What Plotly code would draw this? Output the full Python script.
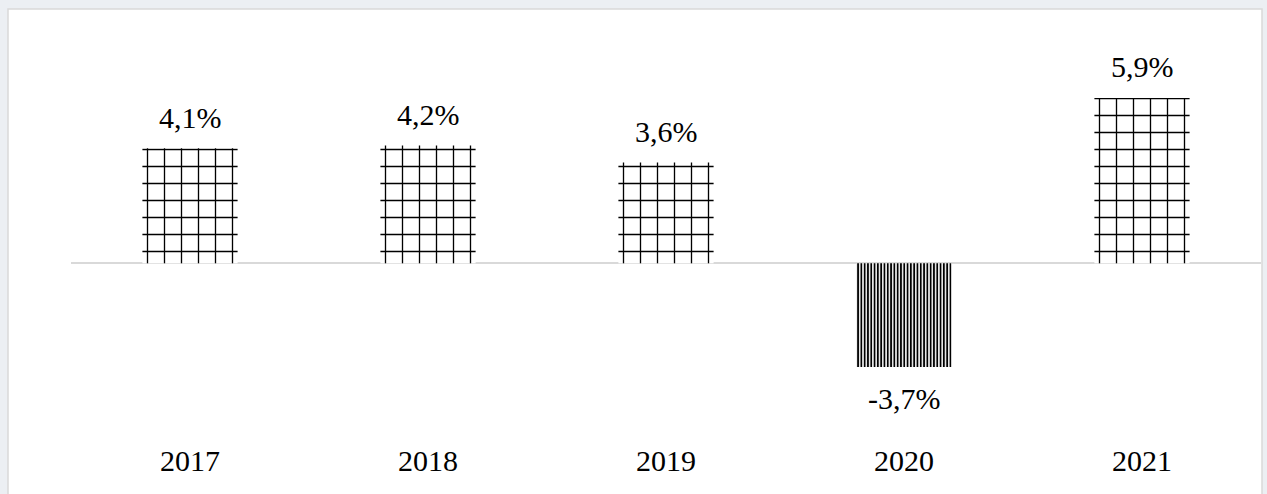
import plotly.graph_objects as go

years = ["2017", "2018", "2019", "2020", "2021"]
growth = [4.1, 4.2, 3.6, -3.7, 5.9]
labels = ["4,1%", "4,2%", "3,6%", "-3,7%", "5,9%"]

W, H = 1267, 494
FONT = "Liberation Serif, Times New Roman, serif"
OUTER = "#eceff3"

pos_idx = [i for i, v in enumerate(growth) if v >= 0]
neg_idx = [i for i, v in enumerate(growth) if v < 0]

fig = go.Figure()
fig.add_trace(go.Bar(
    x=[years[i] for i in pos_idx], y=[growth[i] for i in pos_idx],
    width=0.4,
    marker=dict(
        color="black",
        line=dict(width=0),
        pattern=dict(shape="+", fgcolor="black", fgopacity=1, bgcolor="white",
                     size=17, solidity=0.15, fillmode="replace"),
    ),
    hoverinfo="skip",
))
fig.add_trace(go.Bar(
    x=[years[i] for i in neg_idx], y=[growth[i] for i in neg_idx],
    width=0.4,
    marker=dict(
        color="black",
        line=dict(width=0),
        pattern=dict(shape="|", fgcolor="black", fgopacity=1, bgcolor="white",
                     size=3.3, solidity=0.55, fillmode="replace"),
    ),
    hoverinfo="skip",
))

# value labels (x given as category index on the category axis)
for i, (v, t) in enumerate(zip(growth, labels)):
    fig.add_annotation(
        x=i, y=v, xref="x", yref="y", text=t, showarrow=False,
        yshift=31 if v >= 0 else -31, yanchor="middle",
        font=dict(family=FONT, size=30, color="black"),
    )

# white chart area with light border
fig.add_shape(type="rect", xref="paper", yref="paper",
              x0=8 / W, x1=1262 / W, y0=-0.2, y1=1 - 9 / H,
              fillcolor="white", line=dict(color="#d9d9d9", width=1.5),
              layer="below")

fig.update_layout(
    width=W, height=H,
    margin=dict(l=0, r=0, t=0, b=0, pad=0, autoexpand=False),
    paper_bgcolor=OUTER,
    plot_bgcolor="rgba(0,0,0,0)",
    showlegend=False,
    barmode="overlay",
    xaxis=dict(type="category", categoryorder="array", categoryarray=years,
               range=[-0.5, 4.5], domain=[71 / W, 1261 / W], showgrid=False,
               showline=False, ticks="", automargin=False,
               tickfont=dict(family=FONT, size=30, color="black"),
               fixedrange=True),
    yaxis=dict(domain=[1 - 440 / H, 1 - 39 / H], range=[-6.3, 8],
               showgrid=False, showticklabels=False, showline=False,
               automargin=False,
               zeroline=True, zerolinecolor="#d9d9d9", zerolinewidth=1.5,
               fixedrange=True),
)

fig.write_html(
    "out.html",
    config={"displayModeBar": False},
    post_script=(
        "document.body.style.margin='0';"
        "document.body.style.overflow='hidden';"
        f"document.body.style.background='{OUTER}';"
    ),
)
